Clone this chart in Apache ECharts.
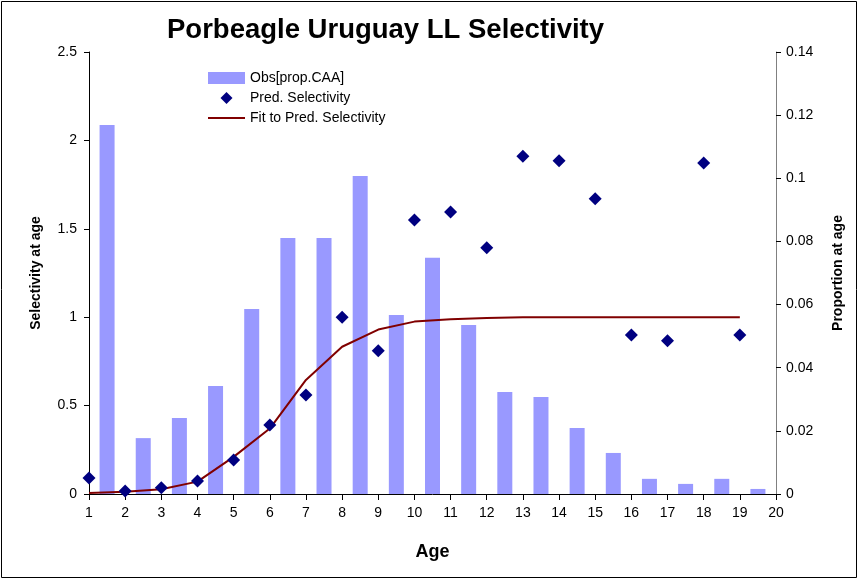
<!DOCTYPE html>
<html>
<head>
<meta charset="utf-8">
<script src="https://cdn.jsdelivr.net/npm/echarts@6/dist/echarts.min.js"></script>
<style>
html,body{margin:0;padding:0;background:#fff;}
#chart{width:859px;height:580px;}
</style>
</head>
<body>
<div id="chart"></div>
<script>
// Ages (x axis ticks)
var ages = [1,2,3,4,5,6,7,8,9,10,11,12,13,14,15,16,17,18,19,20];
// Bar categories (age intervals, bars sit between ticks)
var barCats = ['1-2','2-3','3-4','4-5','5-6','6-7','7-8','8-9','9-10','10-11','11-12','12-13','13-14','14-15','15-16','16-17','17-18','18-19','19-20'];
// Obs[prop.CAA] (right axis)
var obsProp = [0.1169,0.0177,0.0241,0.0342,0.0586,0.0811,0.0811,0.1007,0.0567,0.0748,0.0535,0.0323,0.0307,0.0209,0.0130,0.0048,0.0032,0.0048,0.0016];
// Pred. Selectivity (left axis), ages 1..19
var predAges = [1,2,3,4,5,6,7,8,9,10,11,12,13,14,15,16,17,18,19];
var predSel = [0.09,0.017,0.036,0.073,0.192,0.39,0.56,1.0,0.81,1.55,1.595,1.393,1.91,1.885,1.67,0.90,0.867,1.872,0.90];
// Fit to Pred. Selectivity (left axis), ages 1..19
var fitSel = [0.005,0.013,0.027,0.07,0.21,0.37,0.645,0.833,0.93,0.975,0.988,0.995,1.0,1.0,1.0,1.0,1.0,1.0,1.0];

var chart = echarts.init(document.getElementById('chart'), null, {renderer:'canvas'});
var FONT = 'Liberation Sans';
var option = {
  animation:false,
  backgroundColor:'#fff',
  textStyle:{fontFamily:FONT},
  graphic:[{type:'rect',shape:{x:1.5,y:1.5,width:855,height:576},style:{fill:null,stroke:'#000',lineWidth:1},silent:true}],
  title:{text:'Porbeagle Uruguay LL Selectivity',left:167,top:16,padding:0,
    textStyle:{fontFamily:FONT,fontSize:27.5,fontWeight:'bold',color:'#000'}},
  legend:{orient:'vertical',left:208,top:71,padding:0,itemWidth:37,itemHeight:12,itemGap:6,symbolKeepAspect:true,
    textStyle:{fontFamily:FONT,fontSize:14,color:'#000'},
    data:[{name:'Obs[prop.CAA]',icon:'rect'},
          {name:'Pred. Selectivity',icon:'path://M6,0 L12,6 L6,12 L0,6 Z'},
          {name:'Fit to Pred. Selectivity',icon:'path://M0,0 L40,0 L40,2 L0,2 Z'}]},
  grid:{left:89,right:83,top:52,bottom:86,containLabel:false},
  xAxis:[
    {type:'value',min:1,max:20,interval:1,name:'Age',nameLocation:'middle',nameGap:49,
     nameTextStyle:{fontFamily:FONT,fontSize:18,fontWeight:'bold',color:'#000'},
     axisLine:{lineStyle:{color:'#000'}},axisTick:{show:true,length:6,lineStyle:{color:'#000'}},
     axisLabel:{fontFamily:FONT,fontSize:14,color:'#000',margin:12},splitLine:{show:false}},
    {type:'category',data:barCats,boundaryGap:true,position:'bottom',show:false,
     axisLine:{show:false},axisTick:{show:false},axisLabel:{show:false}}
  ],
  yAxis:[
    {type:'value',min:0,max:2.5,interval:0.5,name:'Selectivity at age',nameLocation:'middle',nameGap:46,
     nameTextStyle:{fontFamily:FONT,fontSize:14,fontWeight:'bold',color:'#000'},
     axisLine:{show:true,lineStyle:{color:'#000'}},axisTick:{show:true,length:5,lineStyle:{color:'#000'}},
     axisLabel:{fontFamily:FONT,fontSize:14,color:'#000',margin:12},splitLine:{show:false}},
    {type:'value',min:0,max:0.14,interval:0.02,name:'Proportion at age',nameLocation:'middle',nameGap:55,nameRotate:90,
     nameTextStyle:{fontFamily:FONT,fontSize:14,fontWeight:'bold',color:'#000'},
     axisLine:{show:true,lineStyle:{color:'#808080'}},axisTick:{show:true,length:5,lineStyle:{color:'#000'}},
     axisLabel:{fontFamily:FONT,fontSize:14,color:'#000',margin:10},splitLine:{show:false}}
  ],
  series:[
    {name:'Obs[prop.CAA]',type:'bar',xAxisIndex:1,yAxisIndex:1,data:obsProp,barWidth:15,
     itemStyle:{color:'#9999FF'}},
    {name:'Fit to Pred. Selectivity',type:'line',xAxisIndex:0,yAxisIndex:0,symbol:'none',
     data:predAges.map(function(a,i){return [a,fitSel[i]];}),
     lineStyle:{color:'#800000',width:2},itemStyle:{color:'#800000'},z:3},
    {name:'Pred. Selectivity',type:'scatter',xAxisIndex:0,yAxisIndex:0,symbol:'diamond',symbolSize:13,
     data:predAges.map(function(a,i){return [a,predSel[i]];}),
     itemStyle:{color:'#000080',opacity:1},z:4}
  ]
};
chart.setOption(option);
</script>
</body>
</html>
